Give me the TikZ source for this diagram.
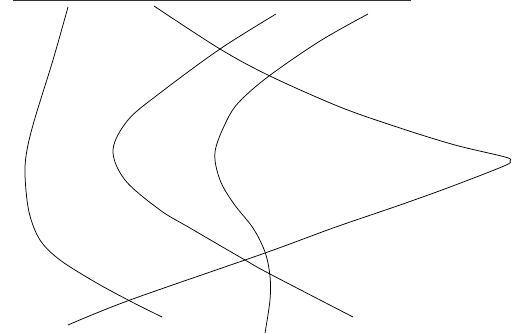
\documentclass[tikz,border=0pt]{standalone}
\usepackage{tikz}
\usetikzlibrary{calc}
\definecolor{Ink}{HTML}{000000}
\definecolor{Rule}{HTML}{333333}

\begin{document}
\begin{tikzpicture}[
  x=1pt,y=-1pt,
  curve/.style={draw=Ink,line width=0.75pt,smooth,tension=0.55},
  rule/.style={draw=Rule,line width=1.3pt}
]
\useasboundingbox (0,0) rectangle (512,333);
\coordinate (ruleL) at (13,0.6);
\coordinate (ruleR) at (411,0.6);
\draw[rule] (ruleL) -- (ruleR);
% left branch
\draw[curve] plot coordinates {(68,7) (53,60) (35,118) (27,150) (25,175) (29,212) (40,240) (60,260) (95,282) (130,301) (162,317)};
% middle branches
\draw[curve] plot coordinates {(276,14) (220,49) (160,93) (128,120) (113,150) (125,180) (160,210) (190,228) (245,260) (270,274) (353,317)};
\draw[curve] plot coordinates {(368,14) (320,41) (269,76) (240,101) (227,120) (215,152) (220,180) (234,204) (253,228) (265,252) (270,276) (270,300) (265,333)};
% wedge
\draw[curve] plot coordinates {(154,6) (220,49) (270,76) (340,107) (400,128) (455,145) (505,157) (510,161) (504,166) (450,187) (400,205) (333,228) (265,253) (130,300) (68,325)};
\end{tikzpicture}
\end{document}
